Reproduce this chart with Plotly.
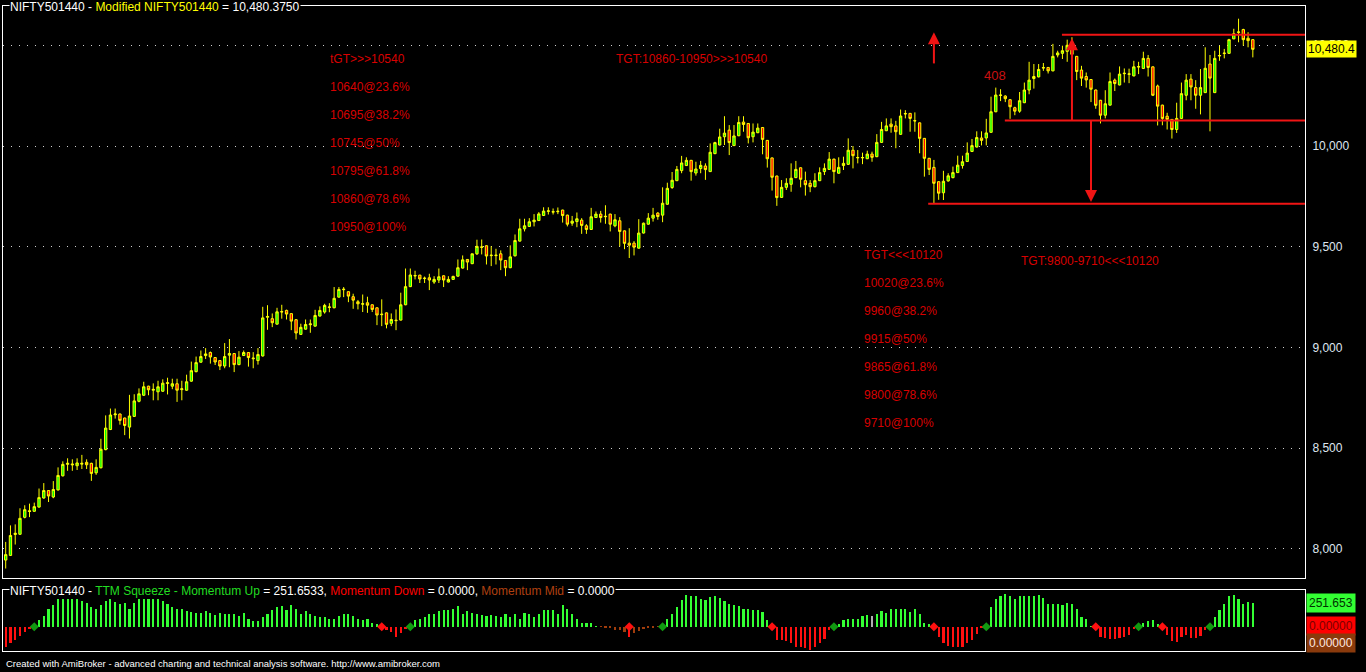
import plotly.graph_objects as go

# ---------------- data ----------------
opens = [7945, 7968, 8072, 8073, 8157, 8190, 8187, 8208, 8253, 8290, 8258, 8293, 8363, 8420, 8422, 8413, 8421, 8430, 8425, 8378,
         8403, 8493, 8593, 8666, 8670, 8650, 8605, 8658, 8733, 8763, 8808, 8788, 8780, 8783, 8821, 8808, 8820, 8791, 8788, 8833,
         8880, 8927, 8960, 8975, 8950, 8935, 8908, 8962, 8970, 8915, 8960, 8975, 8944, 8935, 8958, 9150, 9143, 9116, 9176, 9184,
         9168, 9138, 9065, 9091, 9113, 9106, 9156, 9176, 9199, 9197, 9250, 9287, 9277, 9252, 9227, 9215, 9222, 9212, 9197, 9163,
         9172, 9120, 9133, 9136, 9212, 9302, 9355, 9359, 9342, 9346, 9325, 9335, 9356, 9325, 9338, 9354, 9394, 9437, 9416, 9465,
         9497, 9505, 9456, 9456, 9465, 9432, 9396, 9455, 9528, 9589, 9601, 9624, 9630, 9655, 9676, 9672, 9674, 9682, 9657, 9617,
         9625, 9632, 9604, 9586, 9645, 9662, 9649, 9662, 9604, 9629, 9579, 9518, 9518, 9493, 9568, 9612, 9642, 9667, 9657, 9711,
         9794, 9828, 9878, 9903, 9929, 9866, 9888, 9901, 9873, 9962, 10005, 10046, 10079, 10002, 10051, 10119, 10112, 10046, 10066, 10092,
         10028, 9941, 9851, 9745, 9795, 9810, 9843, 9892, 9828, 9815, 9798, 9828, 9873, 9884, 9935, 9865, 9903, 9909, 9979, 9941,
         9941, 9937, 9960, 9947, 10018, 10076, 10109, 10100, 10058, 10159, 10162, 10124, 10115, 10038, 9939, 9894, 9823, 9768, 9827, 9843,
         9868, 9903, 9923, 9973, 9995, 10040, 10040, 10068, 10170, 10251, 10248, 10230, 10190, 10173, 10215, 10278, 10335, 10343, 10387, 10390,
         10373, 10452, 10460, 10470, 10495, 10445, 10377, 10345, 10330, 10278, 10227, 10153, 10203, 10327, 10303, 10359, 10356, 10348, 10392, 10385,
         10435, 10393, 10298, 10203, 10148, 10132, 10082, 10137, 10252, 10332, 10290, 10252, 10265, 10407, 10265, 10447, 10459, 10460, 10532, 10564,
         10578, 10535, 10528]
highs = [8035, 8117, 8122, 8202, 8217, 8225, 8230, 8300, 8327, 8292, 8337, 8405, 8435, 8450, 8445, 8450, 8467, 8445, 8428, 8445,
         8547, 8663, 8697, 8697, 8672, 8652, 8765, 8768, 8797, 8830, 8810, 8822, 8835, 8842, 8850, 8845, 8845, 8835, 8865, 8930,
         8955, 8985, 8997, 8980, 8952, 8937, 9022, 9042, 8972, 8982, 8985, 8977, 8977, 8997, 9202, 9210, 9169, 9197, 9212, 9188,
         9170, 9140, 9118, 9139, 9139, 9187, 9204, 9217, 9220, 9300, 9300, 9300, 9279, 9267, 9236, 9263, 9252, 9214, 9199, 9239,
         9174, 9169, 9189, 9272, 9392, 9392, 9381, 9361, 9352, 9366, 9354, 9392, 9358, 9354, 9356, 9437, 9457, 9439, 9465, 9535,
         9536, 9507, 9503, 9490, 9482, 9434, 9507, 9561, 9639, 9639, 9642, 9662, 9672, 9696, 9696, 9690, 9695, 9684, 9659, 9653,
         9670, 9642, 9612, 9693, 9675, 9678, 9706, 9664, 9662, 9647, 9581, 9592, 9528, 9637, 9620, 9667, 9693, 9672, 9795, 9818,
         9871, 9901, 9951, 9944, 9931, 9922, 9926, 9914, 10013, 10021, 10086, 10148, 10104, 10104, 10148, 10148, 10114, 10112, 10112, 10094,
         10030, 9943, 9853, 9831, 9840, 9914, 9926, 9894, 9873, 9831, 9865, 9894, 9914, 9970, 9937, 9944, 9947, 10038, 10000, 9980,
         9967, 9977, 9972, 10059, 10120, 10137, 10137, 10125, 10181, 10178, 10164, 10167, 10117, 10040, 9941, 9931, 9825, 9877, 9865, 9898,
         9952, 9952, 10018, 10035, 10073, 10073, 10135, 10245, 10290, 10282, 10252, 10232, 10195, 10268, 10315, 10418, 10407, 10407, 10412, 10392,
         10507, 10473, 10498, 10528, 10540, 10447, 10398, 10365, 10332, 10280, 10229, 10277, 10365, 10335, 10395, 10385, 10384, 10423, 10418, 10468,
         10452, 10395, 10305, 10205, 10165, 10134, 10215, 10315, 10357, 10357, 10327, 10382, 10490, 10452, 10473, 10498, 10482, 10532, 10582, 10632,
         10582, 10565, 10530]
lows = [7903, 7965, 8022, 8070, 8152, 8158, 8185, 8205, 8250, 8233, 8252, 8290, 8360, 8388, 8388, 8392, 8397, 8397, 8338, 8368,
        8400, 8490, 8590, 8647, 8617, 8565, 8548, 8655, 8728, 8760, 8763, 8738, 8738, 8780, 8767, 8793, 8730, 8738, 8785, 8830,
        8877, 8925, 8943, 8920, 8913, 8888, 8897, 8902, 8878, 8912, 8958, 8905, 8897, 8915, 8955, 9088, 9101, 9114, 9143, 9139,
        9086, 9040, 9063, 9089, 9073, 9104, 9154, 9168, 9175, 9195, 9248, 9250, 9225, 9192, 9189, 9176, 9172, 9176, 9111, 9106,
        9095, 9106, 9086, 9134, 9210, 9300, 9338, 9320, 9320, 9285, 9316, 9320, 9300, 9323, 9336, 9352, 9392, 9384, 9414, 9459,
        9462, 9412, 9404, 9412, 9384, 9354, 9394, 9452, 9526, 9576, 9599, 9601, 9628, 9653, 9660, 9660, 9662, 9620, 9601, 9604,
        9597, 9564, 9564, 9584, 9643, 9620, 9614, 9576, 9597, 9502, 9488, 9444, 9457, 9491, 9566, 9610, 9625, 9634, 9622, 9709,
        9787, 9826, 9865, 9901, 9828, 9853, 9865, 9832, 9871, 9960, 10003, 10005, 9955, 10000, 10049, 10071, 10013, 10018, 10064, 9959,
        9893, 9779, 9703, 9743, 9782, 9773, 9841, 9795, 9754, 9771, 9795, 9826, 9856, 9882, 9815, 9863, 9881, 9907, 9889, 9914,
        9910, 9935, 9922, 9945, 10016, 10074, 10066, 9989, 10056, 10137, 10071, 10071, 9964, 9848, 9856, 9716, 9733, 9732, 9823, 9840,
        9866, 9888, 9921, 9970, 9993, 10003, 10003, 10066, 10168, 10223, 10218, 10135, 10153, 10165, 10213, 10257, 10285, 10341, 10373, 10360,
        10371, 10440, 10432, 10418, 10440, 10327, 10298, 10290, 10218, 10185, 10112, 10137, 10201, 10273, 10301, 10315, 10312, 10346, 10357, 10382,
        10345, 10248, 10102, 10103, 10082, 10037, 10065, 10135, 10227, 10227, 10185, 10157, 10263, 10073, 10263, 10423, 10435, 10458, 10530, 10515,
        10498, 10490, 10440]
closes = [7972, 8067, 8078, 8152, 8195, 8186, 8210, 8255, 8290, 8263, 8295, 8365, 8420, 8425, 8418, 8427, 8425, 8418, 8375, 8405,
          8495, 8600, 8665, 8670, 8638, 8613, 8660, 8735, 8770, 8805, 8790, 8792, 8805, 8823, 8825, 8820, 8788, 8795, 8830, 8885,
          8925, 8955, 8968, 8953, 8928, 8908, 8955, 8970, 8915, 8952, 8975, 8950, 8947, 8965, 9147, 9154, 9123, 9177, 9178, 9166,
          9131, 9072, 9100, 9114, 9117, 9159, 9184, 9209, 9201, 9244, 9288, 9289, 9255, 9235, 9217, 9217, 9210, 9189, 9161, 9165,
          9115, 9139, 9135, 9212, 9302, 9360, 9357, 9340, 9344, 9335, 9338, 9351, 9335, 9338, 9353, 9396, 9435, 9424, 9465, 9502,
          9499, 9454, 9458, 9458, 9434, 9396, 9450, 9531, 9589, 9604, 9624, 9632, 9663, 9677, 9678, 9674, 9676, 9655, 9612, 9627,
          9639, 9606, 9586, 9649, 9662, 9645, 9651, 9612, 9634, 9576, 9517, 9508, 9498, 9568, 9617, 9642, 9657, 9650, 9716, 9790,
          9830, 9884, 9916, 9929, 9873, 9886, 9904, 9883, 9969, 10017, 10045, 10064, 10017, 10050, 10117, 10107, 10041, 10069, 10089, 10033,
          9937, 9845, 9744, 9795, 9815, 9840, 9884, 9835, 9808, 9798, 9828, 9868, 9889, 9935, 9873, 9894, 9914, 9979, 9952, 9943,
          9943, 9960, 9944, 10018, 10082, 10100, 10096, 10071, 10149, 10161, 10137, 10126, 10038, 9939, 9884, 9815, 9766, 9825, 9852, 9868,
          9905, 9922, 9965, 10002, 10042, 10028, 10065, 10170, 10253, 10253, 10235, 10195, 10173, 10225, 10278, 10327, 10345, 10380, 10389, 10373,
          10445, 10462, 10473, 10500, 10455, 10370, 10337, 10328, 10282, 10202, 10153, 10210, 10320, 10310, 10357, 10361, 10358, 10393, 10394, 10435,
          10390, 10252, 10198, 10137, 10132, 10082, 10137, 10260, 10327, 10293, 10252, 10290, 10386, 10337, 10435, 10449, 10461, 10528, 10557, 10566,
          10528, 10523, 10480]

momentum = [-212, -169, -141, -99, -53, -28, 5, 71, 116, 187, 236, 293, 293, 293, 293, 293, 275, 254, 212, 194,
            229, 275, 293, 265, 240, 254, 194, 254, 293, 293, 293, 293, 293, 275, 240, 212, 187, 194, 169, 159,
            148, 148, 169, 148, 124, 148, 131, 141, 141, 113, 148, 88, 64, 64, 99, 141, 177, 212, 219, 177,
            229, 194, 134, 169, 141, 113, 106, 106, 88, 88, 113, 134, 141, 113, 88, 71, 78, 35, 28, -5,
            -35, -60, -106, -71, -25, 5, 71, 81, 106, 131, 141, 166, 177, 177, 187, 219, 141, 169, 152, 141,
            124, 116, 124, 113, 106, 141, 99, 134, 88, 148, 134, 99, 141, 177, 184, 184, 141, 229, 194, 141,
            78, 42, 35, 35, 7, -3, -18, -18, -35, -35, -60, -106, -71, -42, -28, -18, -10, -3, 5, 78,
            141, 212, 282, 340, 328, 325, 300, 282, 318, 325, 311, 275, 247, 229, 219, 194, 194, 184, 184, 159,
            71, -5, -141, -141, -148, -177, -212, -212, -229, -247, -212, -177, -134, -35, 5, 28, 71, 88, 88, 78,
            113, 124, 113, 134, 166, 148, 187, 187, 187, 187, 159, 187, 134, 42, 28, -5, -106, -177, -205, -219,
            -219, -212, -177, -141, -78, -18, 5, 212, 300, 325, 353, 325, 300, 325, 325, 325, 325, 335, 311, 247,
            240, 240, 229, 254, 240, 194, 106, 88, 7, -5, -113, -124, -134, -134, -124, -106, -88, -28, 5, 35,
            64, 71, 28, -5, -88, -148, -159, -113, -88, -124, -124, -99, -35, 5, 106, 184, 240, 325, 335, 300,
            247, 265, 252]

# bars of the "Momentum Mid" series and a neutral (grey) bar
mid_bars = [125, 126, 127, 128, 129, 130, 132, 133, 134, 135, 136, 137]
neutral_bars = [182]
# squeeze dots (bar indices)
green_dots = [6, 85, 138, 174, 206, 238, 253]
red_dots = [79, 131, 161, 195, 229, 243]

price_ticks = [8000, 8500, 9000, 9500, 10000, 10500]
price_tick_text = ["8,000", "8,500", "9,000", "9,500", "10,000", "10,500"]

last_close_label = "10,480.4"
mom_up_label, mom_down_label, mom_mid_label = "251.653", "0.00000", "0.00000"

# pattern levels drawn by the analyst
top_level = 10552
neck_level = 10127
bottom_level = 9714
pattern_height = "408"

up_targets = ["tGT>>>10540", "10640@23.6%", "10695@38.2%", "10745@50%", "10795@61.8%", "10860@78.6%", "10950@100%"]
down_targets = ["TGT<<<10120", "10020@23.6%", "9960@38.2%", "9915@50%", "9865@61.8%", "9800@78.6%", "9710@100%"]
up_summary = "TGT:10860-10950>>>10540"
down_summary = "TGT:9800-9710<<<10120"

# ---------------- figure ----------------
N = len(closes)
idx = list(range(N))
FONT = "Liberation Sans, Arial, sans-serif"
RED_TXT = "#d80000"
LINE_RED = "#f01414"

# plot area in pixels: x 3..1305, y 6..651
def px_x(p):
    return (p - 3) / 1302.0

def px_y(p):
    return (651 - p) / 645.0

XR = [-0.567, 272.96]

fig = go.Figure()
fig.add_trace(go.Candlestick(
    x=idx, open=opens, high=highs, low=lows, close=closes,
    xaxis="x", yaxis="y",
    increasing=dict(line=dict(color="#ffff00", width=1), fillcolor="#00ff00"),
    decreasing=dict(line=dict(color="#ffff00", width=1), fillcolor="#ff0000"),
    whiskerwidth=0, hoverinfo="skip", showlegend=False))

bar_colors = []
for i, v in enumerate(momentum):
    if i in mid_bars:
        bar_colors.append("#a03c0c")
    elif i in neutral_bars:
        bar_colors.append("#b0b0b0")
    elif v >= 0:
        bar_colors.append("#33ff33")
    else:
        bar_colors.append("#ff1010")

fig.add_trace(go.Bar(x=idx, y=momentum, width=0.45, marker=dict(color=bar_colors, line=dict(width=0)),
                     xaxis="x2", yaxis="y2", hoverinfo="skip", showlegend=False))
fig.add_trace(go.Scatter(x=green_dots, y=[0] * len(green_dots), mode="markers", xaxis="x2", yaxis="y2",
                         marker=dict(symbol="diamond", size=7, color="#119911"), hoverinfo="skip", showlegend=False))
fig.add_trace(go.Scatter(x=red_dots, y=[0] * len(red_dots), mode="markers", xaxis="x2", yaxis="y2",
                         marker=dict(symbol="diamond", size=7, color="#ff1010"), hoverinfo="skip", showlegend=False))

# arrow heads (tip at the point)
peak_i, drop_i, low_i = 224, 228, 195
fig.add_trace(go.Scatter(x=[peak_i, low_i], y=[10535, 10565], mode="markers", xaxis="x", yaxis="y",
                         marker=dict(symbol="arrow-up", size=12, color=LINE_RED, line=dict(width=0)),
                         hoverinfo="skip", showlegend=False))
fig.add_trace(go.Scatter(x=[drop_i], y=[9722], mode="markers", xaxis="x", yaxis="y",
                         marker=dict(symbol="arrow-down", size=12, color=LINE_RED, line=dict(width=0)),
                         hoverinfo="skip", showlegend=False))

shapes = [
    dict(type="line", xref="x", yref="y", x0=221.9, x1=XR[1], y0=top_level, y1=top_level, line=dict(color=LINE_RED, width=2)),
    dict(type="line", xref="x", yref="y", x0=209.9, x1=XR[1], y0=neck_level, y1=neck_level, line=dict(color=LINE_RED, width=2)),
    dict(type="line", xref="x", yref="y", x0=193.8, x1=XR[1], y0=bottom_level, y1=bottom_level, line=dict(color=LINE_RED, width=2)),
    dict(type="line", xref="x", yref="y", x0=peak_i, x1=peak_i, y0=neck_level, y1=10480, line=dict(color=LINE_RED, width=2)),
    dict(type="line", xref="x", yref="y", x0=drop_i, x1=drop_i, y0=neck_level, y1=9780, line=dict(color=LINE_RED, width=2)),
    dict(type="line", xref="x", yref="y", x0=low_i, x1=low_i, y0=10410, y1=10510, line=dict(color=LINE_RED, width=2)),
]

ann = []
for k, t in enumerate(up_targets):
    ann.append(dict(x=px_x(328), y=px_y(59 + 28 * k), xref="paper", yref="paper", text=t, showarrow=False,
                    xanchor="left", yanchor="middle", font=dict(family=FONT, size=12, color=RED_TXT)))
for k, t in enumerate(down_targets):
    ann.append(dict(x=px_x(862), y=px_y(255 + 28 * k), xref="paper", yref="paper", text=t, showarrow=False,
                    xanchor="left", yanchor="middle", font=dict(family=FONT, size=12, color=RED_TXT)))
ann.append(dict(x=px_x(614), y=px_y(59), xref="paper", yref="paper", text=up_summary, showarrow=False,
                xanchor="left", yanchor="middle", font=dict(family=FONT, size=12, color=RED_TXT)))
ann.append(dict(x=px_x(1019), y=px_y(261), xref="paper", yref="paper", text=down_summary, showarrow=False,
                xanchor="left", yanchor="middle", font=dict(family=FONT, size=12, color=RED_TXT)))
ann.append(dict(x=207.85, y=10352, xref="x", yref="y", text=pattern_height, showarrow=False,
                xanchor="center", yanchor="middle", font=dict(family=FONT, size=13, color="#c81010")))

# titles
ann.append(dict(x=px_x(9), y=px_y(7), xref="paper", yref="paper", showarrow=False, xanchor="left", yanchor="middle",
                bgcolor="#000000", borderpad=0,
                text="NIFTY501440 - <span style='color:#ffff00'>Modified NIFTY501440</span> = 10,480.3750",
                font=dict(family=FONT, size=12, color="#ffffff")))
ann.append(dict(x=px_x(9), y=px_y(591), xref="paper", yref="paper", showarrow=False, xanchor="left", yanchor="middle",
                bgcolor="#000000", borderpad=0,
                text=("NIFTY501440 - <span style='color:#22dd22'>TTM Squeeze - Momentum Up</span> = 251.6533, "
                      "<span style='color:#ff0000'>Momentum Down</span> = 0.0000, "
                      "<span style='color:#b04010'>Momentum Mid</span> = 0.0000"),
                font=dict(family=FONT, size=12, color="#ffffff")))
ann.append(dict(x=px_x(4), y=px_y(663), xref="paper", yref="paper", showarrow=False, xanchor="left", yanchor="middle",
                text="Created with AmiBroker - advanced charting and technical analysis software. http://www.amibroker.com",
                font=dict(family=FONT, size=9.5, color="#ffffff")))

# value boxes on the right
ann.append(dict(x=px_x(1306), y=10480.4, xref="paper", yref="y", text=last_close_label, showarrow=False,
                xanchor="left", yanchor="middle", bgcolor="#ffff00", borderpad=1,
                font=dict(family=FONT, size=12, color="#000000")))
ann.append(dict(x=px_x(1306), y=momentum[-1], xref="paper", yref="y2", text=mom_up_label, showarrow=False,
                xanchor="left", yanchor="middle", bgcolor="#33ff33", borderpad=2,
                font=dict(family=FONT, size=12, color="#003300")))
ann.append(dict(x=px_x(1306), y=0, xref="paper", yref="y2", text=mom_down_label, showarrow=False, yshift=1,
                xanchor="left", yanchor="middle", bgcolor="#ff0000", borderpad=2,
                font=dict(family=FONT, size=12, color="#7a0000")))
ann.append(dict(x=px_x(1306), y=0, xref="paper", yref="y2", text=mom_mid_label, showarrow=False, yshift=-16,
                xanchor="left", yanchor="middle", bgcolor="#8a3a0c", borderpad=2,
                font=dict(family=FONT, size=12, color="#ffe8e0")))

fig.update_layout(
    width=1366, height=672,
    margin=dict(l=3, r=61, t=6, b=21),
    paper_bgcolor="#000000", plot_bgcolor="#000000",
    showlegend=False, hovermode=False, bargap=0,
    shapes=shapes, annotations=ann,
    xaxis=dict(domain=[0, 1], range=XR, anchor="y", showticklabels=False, showgrid=False, zeroline=False,
               showline=True, mirror=True, linecolor="#ffffff", linewidth=1, ticks="",
               rangeslider=dict(visible=False), fixedrange=True),
    yaxis=dict(domain=[0.1132, 1], range=[7856, 10695], side="right", tickvals=price_ticks, ticktext=price_tick_text,
               tickfont=dict(family=FONT, size=12, color="#dfe6f0"), ticks="", ticklabelstandoff=4,
               showgrid=True, gridcolor="#cfcfcf", gridwidth=1, griddash="1px,7px", zeroline=False,
               showline=True, mirror=True, linecolor="#ffffff", linewidth=1, fixedrange=True),
    xaxis2=dict(domain=[0, 1], range=XR, anchor="y2", showticklabels=False, showgrid=False, zeroline=False,
                showline=True, mirror=True, linecolor="#ffffff", linewidth=1, ticks="", fixedrange=True),
    yaxis2=dict(domain=[0, 0.0946], range=[-260, 393], anchor="x2", showticklabels=False, showgrid=False,
                zeroline=False, showline=True, mirror=True, linecolor="#ffffff", linewidth=1, ticks="",
                fixedrange=True),
)

fig.write_html("out.html", config={"displayModeBar": False},
               post_script="document.body.style.margin='0';document.body.style.background='#000';")
